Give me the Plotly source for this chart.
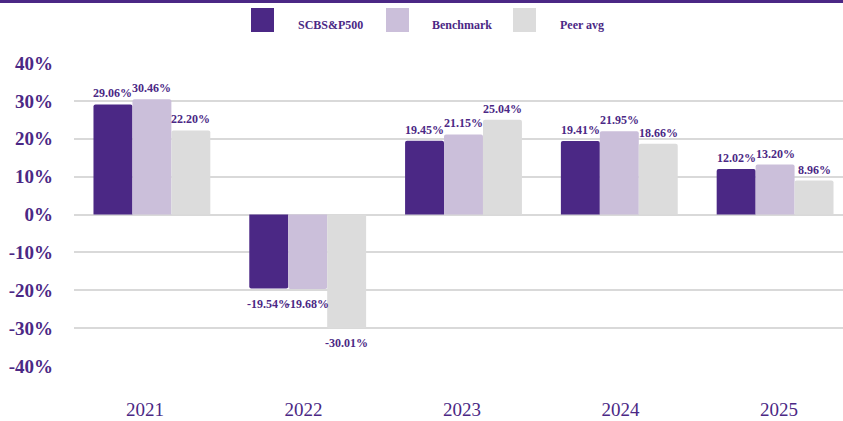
import plotly.graph_objects as go

years = ["2021", "2022", "2023", "2024", "2025"]
scbs = [29.06, -19.54, 19.45, 19.41, 12.02]
benchmark = [30.46, -19.68, 21.15, 21.95, 13.20]
peer = [22.20, -30.01, 25.04, 18.66, 8.96]
series_names = ["SCBS&P500", "Benchmark", "Peer avg"]
y_ticks = [-40, -30, -20, -10, 0, 10, 20, 30, 40]

colors = ["#4B2885", "#CBBFDA", "#DCDCDC"]
purple = "#4B2885"
FONT = "Liberation Serif"

W, H = 843, 421
ML, MR, MT, MB = 74, 0, 63, 55
PW, PH = W - ML - MR, H - MT - MB
UNIT = 155.8            # px per category on the bar axis
BARGAP = 0.25
BAR_PX = UNIT * (1 - BARGAP) / 3
X_RANGE = [-0.5, -0.5 + PW / UNIT]
LBL_UNIT = 158.5        # px per category for tick labels
LBL_RANGE = [-(145 - ML) / LBL_UNIT, -(145 - ML) / LBL_UNIT + PW / LBL_UNIT]


def px(x):
    return (x - ML) / PW


def py(y):
    return (H - MB - y) / PH


fig = go.Figure()
annotations = []
for k, (name, vals, col) in enumerate(zip(series_names, [scbs, benchmark, peer], colors)):
    fig.add_trace(go.Bar(
        x=years, y=vals, name=name,
        marker=dict(color=col, cornerradius=2, line=dict(width=0)),
        showlegend=False, hovertemplate="%{x}: %{y:.2f}%<extra>" + name + "</extra>",
    ))
    for i, v in enumerate(vals):
        annotations.append(dict(
            x=i, y=v, xref="x", yref="y", text=f"{v:.2f}%", showarrow=False,
            xshift=(k - 1) * BAR_PX, yshift=2 if v >= 0 else -6,
            yanchor="bottom" if v >= 0 else "top", xanchor="center",
            font=dict(family=FONT, size=12, color=purple, weight="bold"),
        ))

# invisible trace to carry the category tick labels
fig.add_trace(go.Scatter(x=years, y=[None] * len(years), xaxis="x2", showlegend=False,
                         hoverinfo="skip", mode="markers"))

shapes = [dict(type="rect", xref="paper", yref="paper",
               x0=px(0), x1=px(W), y0=py(0), y1=py(3),
               fillcolor=purple, line=dict(width=0), layer="above")]
leg_boxes = [251, 386, 513]
leg_text = [296, 430, 558]
for name, col, bx, tx in zip(series_names, colors, leg_boxes, leg_text):
    shapes.append(dict(type="rect", xref="paper", yref="paper",
                       x0=px(bx), x1=px(bx + 23), y0=py(32), y1=py(8),
                       fillcolor=col, line=dict(width=0)))
    annotations.append(dict(xref="paper", yref="paper", x=px(tx), y=py(25.5),
                            text=name, showarrow=False, xanchor="left", yanchor="middle",
                            font=dict(family=FONT, size=12, color=purple, weight="bold")))

fig.update_layout(
    width=W, height=H,
    margin=dict(l=ML, r=MR, t=MT, b=MB, pad=0),
    paper_bgcolor="white", plot_bgcolor="white",
    barmode="group", bargap=BARGAP, bargroupgap=0,
    shapes=shapes, annotations=annotations,
    showlegend=False,
    xaxis=dict(
        type="category", categoryorder="array", categoryarray=years,
        range=X_RANGE, showgrid=False, zeroline=False, showline=False,
        showticklabels=False, ticks="",
    ),
    xaxis2=dict(
        overlaying="x", anchor="y", side="bottom", type="category",
        categoryorder="array", categoryarray=years,
        range=LBL_RANGE, showgrid=False, zeroline=False, showline=False,
        tickfont=dict(family=FONT, size=19, color=purple),
        ticks="", ticklabelstandoff=30,
    ),
    yaxis=dict(
        range=[-40, 40], tickvals=y_ticks, ticktext=[f"{t}%" for t in y_ticks],
        showgrid=True, gridcolor="#D9D9D9", gridwidth=2,
        zeroline=True, zerolinecolor="#D9D9D9", zerolinewidth=2,
        showline=False, ticks="",
        tickfont=dict(family=FONT, size=19, color=purple, weight="bold"),
        ticklabelstandoff=20,
    ),
)

fig.write_html("out.html")
